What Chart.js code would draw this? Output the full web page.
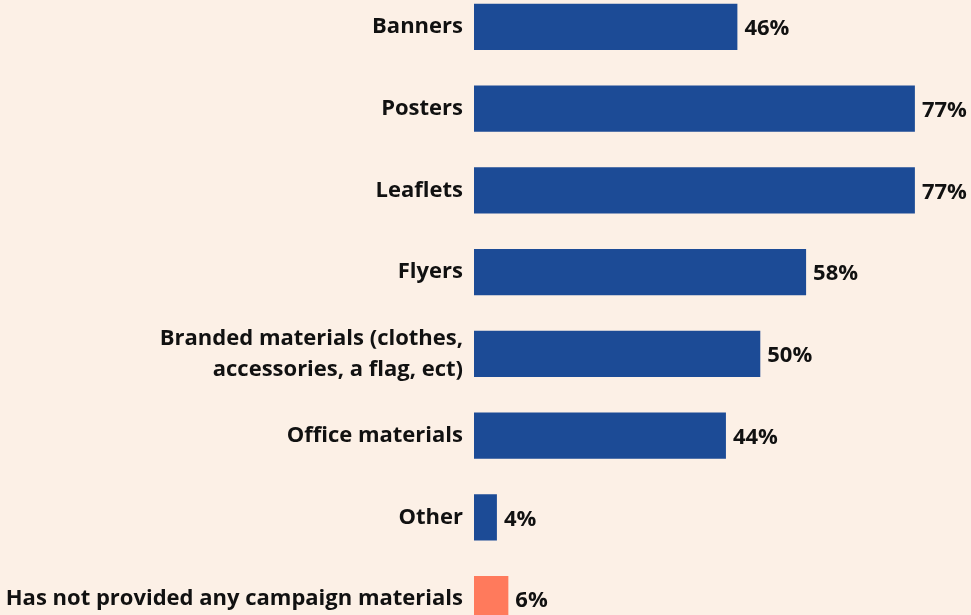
<!DOCTYPE html>
<html>
<head>
<meta charset="utf-8">
<script src="https://cdn.jsdelivr.net/npm/chart.js@4.4.1/dist/chart.umd.min.js"></script>
<style>
  html, body { margin: 0; padding: 0; background: #fcf0e6; overflow: hidden; }
  #wrap { position: absolute; left: 0; top: -14px; width: 971px; height: 654px; }
</style>
</head>
<body>
<div id="wrap"><canvas id="chart"></canvas></div>
<script>
// categories et valeurs (%)
const categories = [
  'Banners',
  'Posters',
  'Leaflets',
  'Flyers',
  ['Branded materials (clothes,', 'accessories, a flag, ect)'],
  'Office materials',
  'Other',
  'Has not provided any campaign materials'
];
const values = [46, 77, 77, 58, 50, 44, 4, 6];
const barColors = ['#1c4b96', '#1c4b96', '#1c4b96', '#1c4b96', '#1c4b96', '#1c4b96', '#1c4b96', '#ff7a5c'];

const FONT = "'Open Sans', sans-serif";

// etiquettes de valeur au bout des barres
const valueLabels = {
  id: 'valueLabels',
  afterDatasetsDraw(chart) {
    const ctx = chart.ctx;
    const meta = chart.getDatasetMeta(0);
    ctx.save();
    ctx.font = `bold 22px ${FONT}`;
    ctx.fillStyle = '#111111';
    ctx.textAlign = 'left';
    ctx.textBaseline = 'middle';
    meta.data.forEach((bar, i) => {
      ctx.fillText(values[i] + '%', bar.x + 7, bar.y + 2);
    });
    ctx.restore();
  }
};

new Chart(document.getElementById('chart').getContext('2d'), {
  type: 'bar',
  data: {
    labels: categories,
    datasets: [{
      data: values,
      backgroundColor: barColors,
      borderWidth: 0,
      barPercentage: 0.563,
      categoryPercentage: 1
    }]
  },
  options: {
    indexAxis: 'y',
    responsive: true,
    maintainAspectRatio: false,
    animation: false,
    layout: { padding: 0 },
    plugins: { legend: { display: false }, tooltip: { enabled: false } },
    scales: {
      x: {
        min: 0,
        max: 86.8,
        display: false
      },
      y: {
        afterFit: (scale) => {
          scale.width = 474;
          scale.paddingTop = 0;
          scale.paddingBottom = 0;
        },
        grid: { display: false, drawTicks: false },
        border: { display: false },
        ticks: {
          color: '#111111',
          padding: 11,
          font: { family: FONT, size: 22, weight: 'bold', lineHeight: 1.4 }
        }
      }
    }
  },
  plugins: [valueLabels]
});
</script>
</body>
</html>
